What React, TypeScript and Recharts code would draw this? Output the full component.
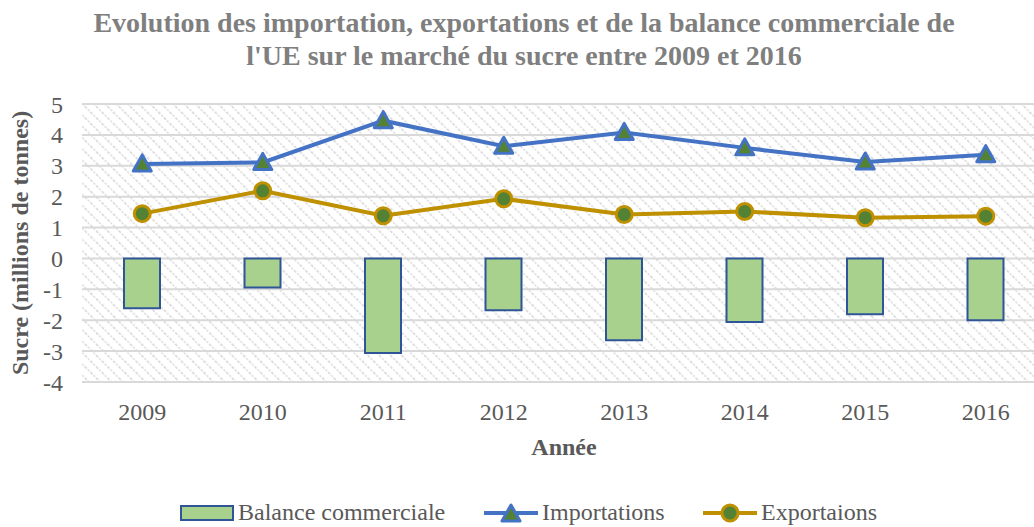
import {
  Bar,
  CartesianGrid,
  ComposedChart,
  Label,
  Legend,
  Line,
  XAxis,
  YAxis
} from 'recharts'

const years = ['2009', '2010', '2011', '2012', '2013', '2014', '2015', '2016']
const balance = [-1.61, -0.94, -3.06, -1.68, -2.65, -2.06, -1.81, -2.0]
const importations = [3.06, 3.11, 4.46, 3.63, 4.08, 3.58, 3.12, 3.36]
const exportations = [1.45, 2.19, 1.38, 1.93, 1.42, 1.52, 1.32, 1.37]
const yTicks = [-4, -3, -2, -1, 0, 1, 2, 3, 4, 5]

const rows = years.map((year, i) => ({
  year,
  balance: balance[i],
  importations: importations[i],
  exportations: exportations[i]
}))

const SERIF = '"Liberation Serif", "Times New Roman", serif'
const TEXT = '#595959'
const BLUE = '#4472c4'
const GOLD = '#bf9000'
const GREEN_DOT = '#548235'
const BAR_FILL = '#a9d18e'
const BAR_STROKE = '#2f5597'

function Triangle({ cx, cy }: { cx?: number; cy?: number }) {
  if (cx == null || cy == null) return null
  const w = 9
  return (
    <polygon
      points={`${cx - w},${cy + 7} ${cx + w},${cy + 7} ${cx},${cy - 9}`}
      fill={GREEN_DOT}
      stroke={BLUE}
      strokeWidth={3}
      strokeLinejoin='round'
    />
  )
}

function Circle({ cx, cy }: { cx?: number; cy?: number }) {
  if (cx == null || cy == null) return null
  return <circle cx={cx} cy={cy} r={8} fill={GREEN_DOT} stroke={GOLD} strokeWidth={3} />
}

function LegendContent() {
  const item = { display: 'flex', alignItems: 'center' } as const
  const label = { fontFamily: SERIF, fontSize: 24, color: TEXT, marginLeft: 4 }
  return (
    <div style={{ position: 'relative', height: 30 }}>
      <div style={{ ...item, position: 'absolute', left: 180 }}>
        <svg width={54} height={20}>
          <rect x={1} y={3} width={52} height={14} fill={BAR_FILL} stroke={BAR_STROKE} strokeWidth={2} />
        </svg>
        <span style={label}>Balance commerciale</span>
      </div>
      <div style={{ ...item, position: 'absolute', left: 484 }}>
        <svg width={54} height={24}>
          <line x1={0} y1={12} x2={54} y2={12} stroke={BLUE} strokeWidth={4} />
          <Triangle cx={27} cy={13} />
        </svg>
        <span style={label}>Importations</span>
      </div>
      <div style={{ ...item, position: 'absolute', left: 703 }}>
        <svg width={54} height={24}>
          <line x1={0} y1={12} x2={54} y2={12} stroke={GOLD} strokeWidth={4} />
          <Circle cx={27} cy={12} />
        </svg>
        <span style={label}>Exportaions</span>
      </div>
    </div>
  )
}

export default function App() {
  return (
    <div
      style={{
        position: 'absolute',
        left: 0,
        top: 0,
        width: 1034,
        height: 527,
        overflow: 'hidden',
        background: '#fff'
      }}
    >
      <div
        style={{
          position: 'absolute',
          left: 0,
          width: 1048,
          top: 6,
          textAlign: 'center',
          fontFamily: SERIF,
          fontWeight: 'bold',
          fontSize: 28,
          lineHeight: '33px',
          color: '#7f7f7f'
        }}
      >
        Evolution des importation, exportations et de la balance commerciale de
        <br />
        l'UE sur le marché du sucre entre 2009 et 2016
      </div>
      <ComposedChart
        width={1050}
        height={527}
        data={rows}
        margin={{ top: 104, right: 4, left: 0, bottom: 0 }}
      >
        <defs>
          <pattern
            id='hatch'
            patternUnits='userSpaceOnUse'
            width={8}
            height={8}
            patternTransform='rotate(-45)'
          >
            <line x1={0} y1={0} x2={0} y2={8} stroke='#d6d6d6' strokeWidth={3} strokeDasharray='2 1.5' />
          </pattern>
        </defs>
        <CartesianGrid
          vertical={false}
          stroke='#d9d9d9'
          strokeWidth={2}
          fill='url(#hatch)'
          fillOpacity={1}
        />
        <XAxis
          dataKey='year'
          height={115}
          axisLine={false}
          tickLine={false}
          tickSize={0}
          tickMargin={21}
          tick={{ fontFamily: SERIF, fontSize: 24, fill: TEXT }}
        >
          <Label
            content={() => (
              <text
                x={564}
                y={455}
                textAnchor='middle'
                fontFamily={SERIF}
                fontWeight='bold'
                fontSize={24}
                fill={TEXT}
              >
                Année
              </text>
            )}
          />
        </XAxis>
        <YAxis
          width={82}
          domain={[-4, 5]}
          ticks={yTicks}
          interval={0}
          axisLine={false}
          tickLine={false}
          tickSize={0}
          tickMargin={19}
          tick={{ fontFamily: SERIF, fontSize: 24, fill: TEXT }}
        >
          <Label
            content={() => (
              <text
                x={28}
                y={243}
                transform='rotate(-90 28 243)'
                textAnchor='middle'
                fontFamily={SERIF}
                fontWeight='bold'
                fontSize={24}
                fill={TEXT}
              >
                Sucre (millions de tonnes)
              </text>
            )}
          />
        </YAxis>
        <Bar
          dataKey='balance'
          name='Balance commerciale'
          barSize={36}
          fill={BAR_FILL}
          stroke={BAR_STROKE}
          strokeWidth={2}
          isAnimationActive={false}
        />
        <Line
          dataKey='importations'
          name='Importations'
          stroke={BLUE}
          strokeWidth={4}
          dot={<Triangle />}
          activeDot={false}
          isAnimationActive={false}
        />
        <Line
          dataKey='exportations'
          name='Exportaions'
          stroke={GOLD}
          strokeWidth={4}
          dot={<Circle />}
          activeDot={false}
          isAnimationActive={false}
        />
        <Legend
          content={<LegendContent />}
          wrapperStyle={{ position: 'absolute', left: 0, top: 499, width: 1034 }}
        />
      </ComposedChart>
    </div>
  )
}
